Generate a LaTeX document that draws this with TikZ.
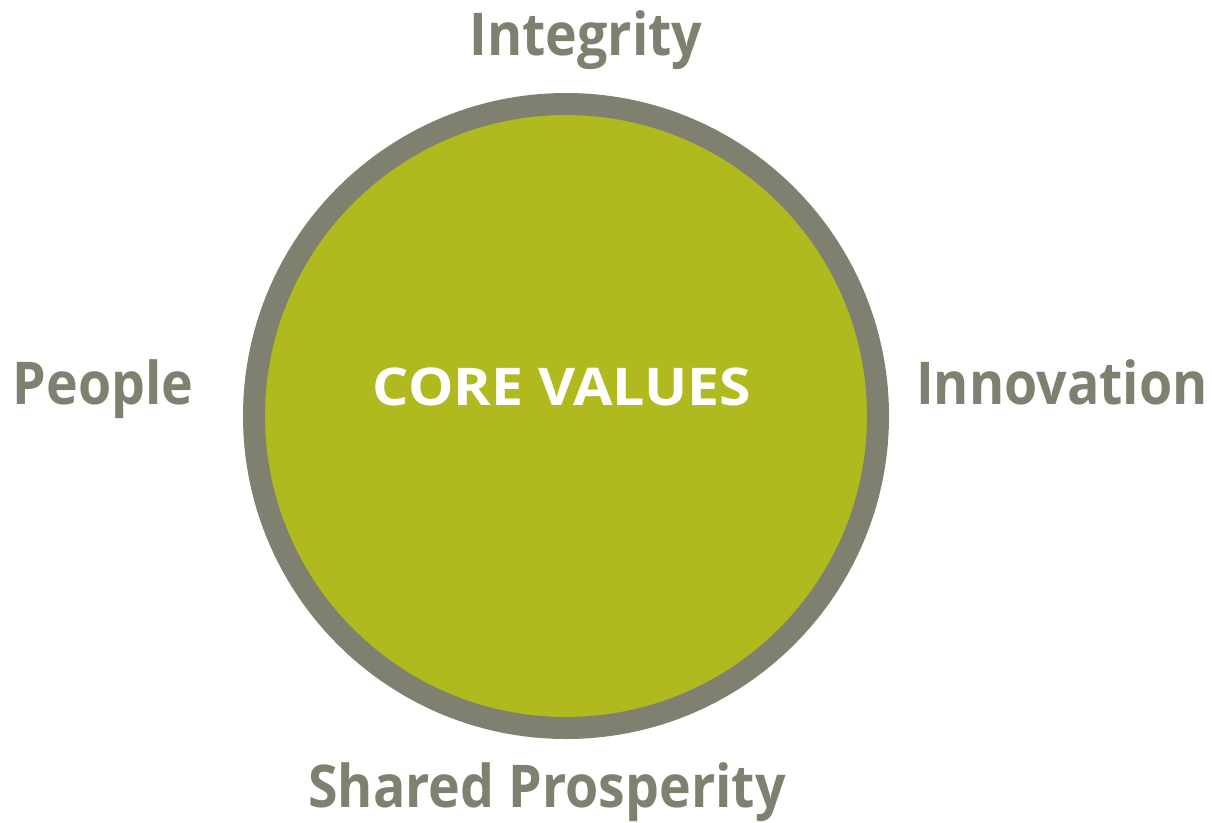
\documentclass[tikz,border=0pt]{standalone}
\usepackage{fontspec}
\setmainfont{Open Sans}
\definecolor{ringgray}{HTML}{808070}
\definecolor{corelime}{HTML}{B0B91E}
\begin{document}
\begin{tikzpicture}[x=1pt,y=-1pt,
  value/.style={font=\fontsize{59}{60}\selectfont\bfseries, text=ringgray, anchor=base, inner sep=0pt, xscale=0.91},
  core/.style={font=\fontsize{52}{54}\selectfont\bfseries, text=white, anchor=base, inner sep=0pt, xscale=1.1}]
  \useasboundingbox (0,0) rectangle (1212,822);
  % central disc with grey rim
  \node[circle, minimum size=624pt, fill=corelime, draw=ringgray, line width=22pt, inner sep=0pt] (disc) at (566,416) {};
  \node[core] (title) at (562,405) {CORE VALUES};
  % the four values around the disc
  \node[value] (integrity) at (586,55) {Integrity};
  \node[value] (people) at (103,404) {People};
  \node[value] (innovation) at (1062,404) {Innovation};
  \node[value] (shared) at (547,807) {Shared Prosperity};
\end{tikzpicture}
\end{document}
